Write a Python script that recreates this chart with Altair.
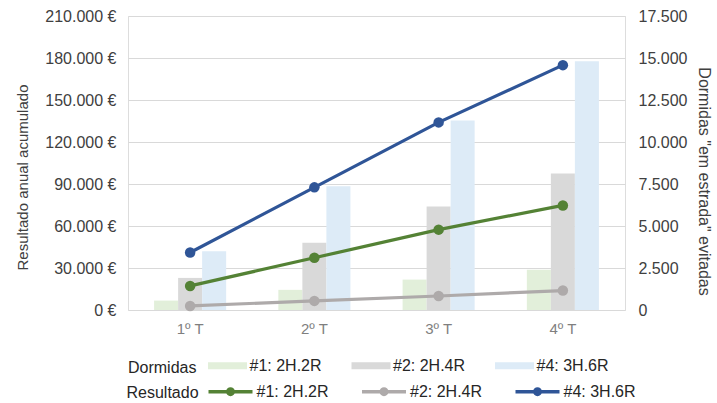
import altair as alt
import pandas as pd

trimestres = ["1º T", "2º T", "3º T", "4º T"]
series = ["#1: 2H.2R", "#2: 2H.4R", "#4: 3H.6R"]

# Dormidas "em estrada" evitadas (right axis, bars)
dormidas_1 = [560, 1200, 1810, 2390]
dormidas_2 = [1910, 4010, 6160, 8130]
dormidas_4 = [3490, 7370, 11280, 14810]

# Resultado anual acumulado (left axis, lines)
resultado_1 = [17200, 37300, 57400, 74700]
resultado_2 = [2900, 6500, 10000, 13900]
resultado_4 = [41100, 87600, 134000, 174900]

bar_colors = ["#E2EFDA", "#D9D9D9", "#DDEBF7"]
line_colors = ["#548235", "#AEAAAA", "#2F5597"]

rows_b = []
for s, vals in zip(series, [dormidas_1, dormidas_2, dormidas_4]):
    for t, v in zip(trimestres, vals):
        rows_b.append({"trimestre": t, "serie_d": s, "dormidas": v})
df_b = pd.DataFrame(rows_b)

rows_l = []
for s, vals in zip(series, [resultado_1, resultado_2, resultado_4]):
    for t, v in zip(trimestres, vals):
        rows_l.append({"trimestre": t, "serie_r": s, "resultado": v})
df_l = pd.DataFrame(rows_l)

FONT = "Liberation Sans"
DARK = "#404040"
XGREY = "#7F7F7F"
LEG = "#262626"

x_enc = alt.X("trimestre:N", sort=trimestres, title=None,
              scale=alt.Scale(paddingInner=0.42, paddingOuter=0.21),
              axis=alt.Axis(labelAngle=0, ticks=False, domain=False, labelPadding=11,
                            labelFontSize=15, labelColor=XGREY, labelFont=FONT))

bars = alt.Chart(df_b).mark_bar().encode(
    x=x_enc,
    xOffset=alt.XOffset("serie_d:N", sort="ascending", scale=alt.Scale(paddingInner=0, paddingOuter=0)),
    y=alt.Y("dormidas:Q", scale=alt.Scale(domain=[0, 17500]),
            title='Dormidas "em estrada" evitadas',
            axis=alt.Axis(orient="right", values=list(range(0, 17501, 2500)), grid=False,
                          ticks=False, domain=False, labelPadding=13,
                          labelExpr="replace(format(datum.value, ',.0f'), ',', '.')",
                          labelFontSize=16, labelColor=DARK, labelFont=FONT,
                          titleFontSize=16, titleFont=FONT, titleColor=DARK,
                          titleFontWeight="normal", titlePadding=9, titleY=165)),
    fill=alt.Fill("serie_d:N", sort="ascending",
                  scale=alt.Scale(range=bar_colors),
                  legend=alt.Legend(title="Dormidas", orient="none", legendX=0, legendY=330,
                                    direction="horizontal", titleOrient="left",
                                    titleAnchor="middle", titleBaseline="top",
                                    symbolType="M-1,-0.18H1V0.18H-1Z", symbolSize=1521,
                                    symbolStrokeWidth=0, labelOffset=2.5, columnPadding=29.5,
                                    titleFontSize=16, labelFontSize=16, titleFont=FONT,
                                    labelFont=FONT, titleFontWeight="normal",
                                    titleColor=LEG, labelColor=LEG,
                                    titlePadding=11)),
)

left_y = alt.Y("resultado:Q", scale=alt.Scale(domain=[0, 210000]),
               title="Resultado anual acumulado",
               axis=alt.Axis(orient="left", values=list(range(0, 210001, 30000)), grid=True,
                             gridColor="#D9D9D9", ticks=False, domain=False, labelPadding=12,
                             labelExpr="replace(format(datum.value, ',.0f'), ',', '.') + ' €'",
                             labelFontSize=16, labelColor=DARK, labelFont=FONT,
                             titleFontSize=15, titleFont=FONT, titleColor=DARK,
                             titleFontWeight="normal", titlePadding=14, titleY=161))

color_enc = alt.Color("serie_r:N", sort="ascending",
                      scale=alt.Scale(range=line_colors),
                      legend=alt.Legend(title="Resultado", orient="none", legendX=-1.5, legendY=351.5,
                                        direction="horizontal", titleOrient="left",
                                        titleAnchor="middle", titleBaseline="top",
                                        symbolType="M-1,0H1M0.125,0A0.125,0.125 0 1,1 -0.125,0A0.125,0.125 0 1,1 0.125,0Z",
                                        symbolSize=1936, symbolStrokeWidth=3.5, labelOffset=2,
                                        columnPadding=25.5,
                                        titleFontSize=16, labelFontSize=16, titleFont=FONT,
                                        labelFont=FONT, titleFontWeight="normal",
                                        titleColor=LEG, labelColor=LEG,
                                        titlePadding=7))

lines = alt.Chart(df_l).mark_line(strokeWidth=3.2).encode(
    x=alt.X("trimestre:N", sort=trimestres), y=left_y, color=color_enc)
points = alt.Chart(df_l).mark_point(filled=True, size=110, opacity=1).encode(
    x=alt.X("trimestre:N", sort=trimestres), y=left_y, color=color_enc)

chart = alt.layer(bars, lines + points).resolve_scale(y="independent").properties(
    width=497, height=294,
    autosize=alt.AutoSizeParams(type="none"),
    padding={"left": 128, "top": 16, "right": 92, "bottom": 93},
).configure_view(stroke=None).configure(background="white")

chart.save("out.html", embed_options={"renderer": "svg", "actions": False})
